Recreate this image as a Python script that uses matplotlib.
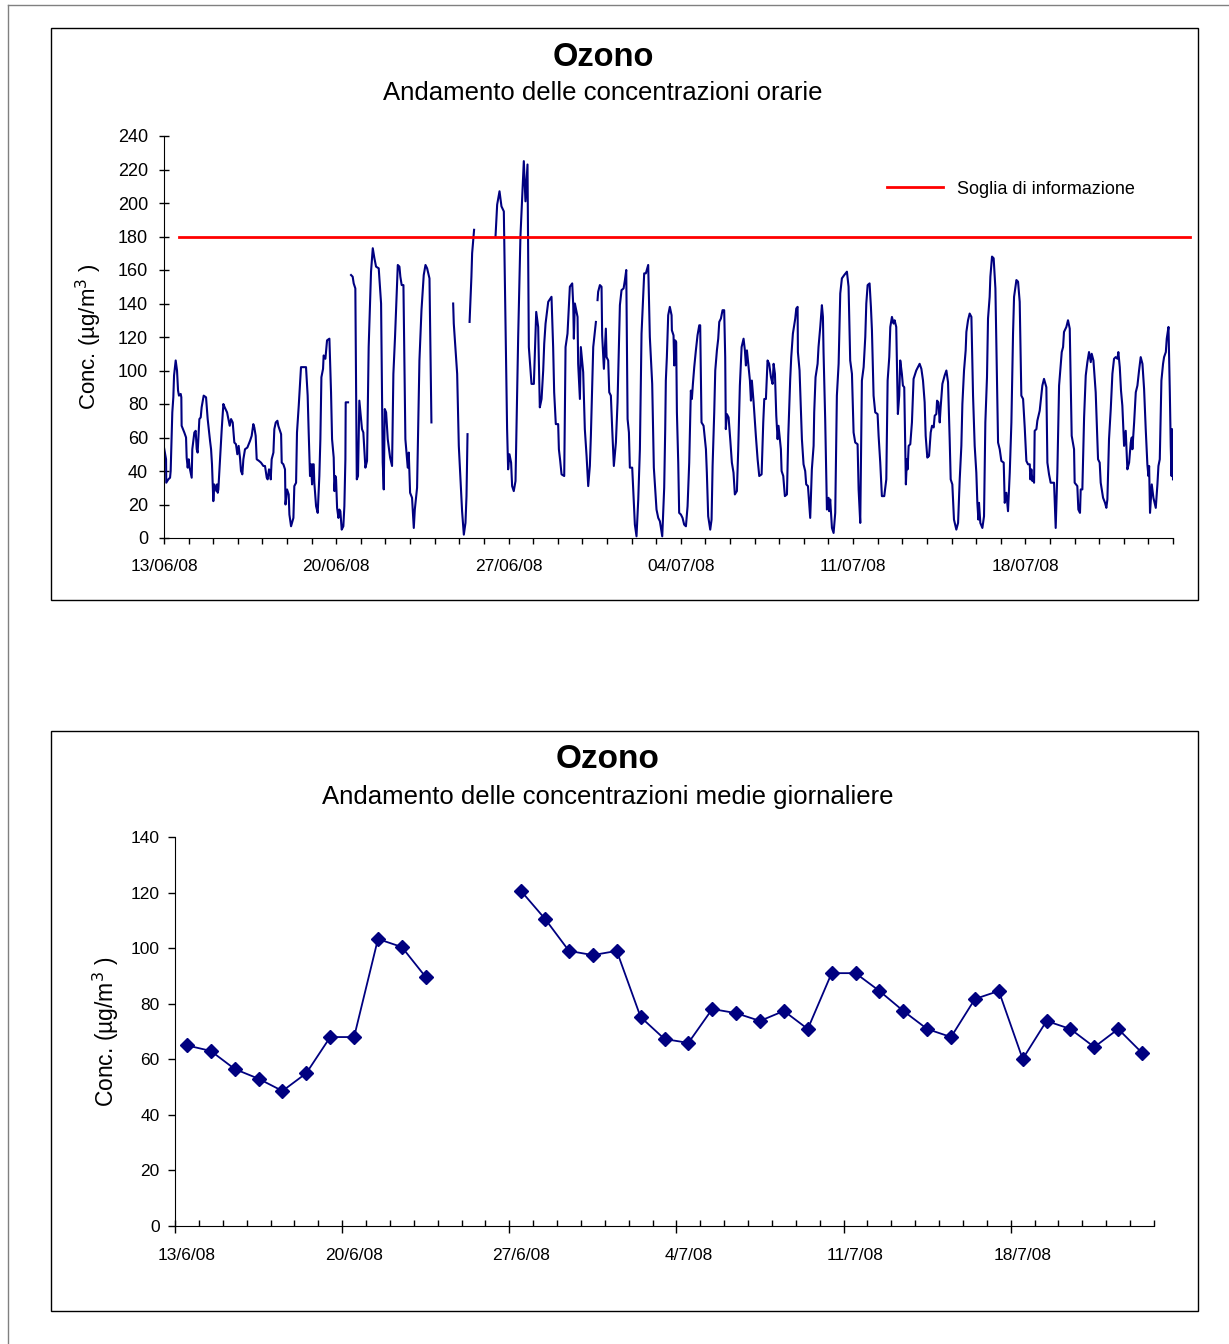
import numpy as np
import pandas as pd
import matplotlib
matplotlib.use("Agg")
import matplotlib.pyplot as plt
from matplotlib.lines import Line2D
from matplotlib.patches import Rectangle

plt.rcParams['font.family'] = ['Liberation Sans', 'DejaVu Sans']

BLU = '#000080'
ROSSO = '#FF0000'

# --- concentrazioni orarie (ore dall'inizio del 13/06/08, None = dato mancante) ---
inizio = pd.Timestamp("2008-06-13")
ore = [0, 2, 2.2, 4.2, 5.9, 6.5, 8.1, 9.1, 9.8, 11.4, 12.7, 13.7, 14.6, 16.3, 16.9, 17.2, 19.8, 21.5, 22.1, 23.1,
       24.1, 25, 27, 27.6, 29.6, 30.9, 31.9, 32.8, 34.5, 35.8, 36.7, 38.7, 41, 42.6, 44.9, 45.9, 46.8, 48.1, 49.1,
       51.1, 51.7, 52.4, 53, 54.6, 56.3, 57.9, 59.2, 61.5, 63.1, 64.1, 65.4, 67, 68.6, 70.2, 71.5, 72.8, 74.1, 75.1,
       76.4, 77.4, 79, 81.3, 83.9, 85.5, 87.1, 88.1, 89.4, 90.4, 92.7, 94.6, 96.9, 98.5, 100.2, 101.1, 102.4, 103.4,
       104.1, 105, 106.7, 107.6, 109, 110.6, 111.5, 114.2, 114.8, 116.4, 118, 118.5, 120, 121.6, 122.3, 123.9, 126.2,
       127.1, 128.8, 129.7, 131.4, 133.6, 138.5, 140.1, 141.1, 142.4, 143.4, 144.4, 145, 146, 146.6, 148.3, 149.9,
       151.5, 152.5, 153.5, 155.1, 155.7, 157.4, 159, 161.3, 162.9, 163.9, 165.5, 166.2, 167.1, 167.8, 168.8, 170.1,
       171, 172, 173.3, 174.9, 175.9, 176.9, 177.2, 179.5, 181,
       182.4, 184, 185, 186.6, 188, 189.2, 190.5, 192.2, 193.1, 194.4, 195.4, 196.4, 198, 199.6, 201.9, 203.6, 205.2,
       206.8, 209.4, 211.7, 213.3, 214.3, 215.3, 216.6, 218.2, 220.5, 222.4, 223.7, 225.3, 228, 229.6, 230.5, 231.8,
       233.5, 235.4, 237.7, 238.7, 240, 241.9, 243.6, 244.6, 246.8, 249.1, 251.1, 253.3, 255, 256.6, 258.9, 260.8, 270,
       282, 282.6, 285.9, 287.5, 289.1, 290.7, 292.4, 294, 295, 296, 297,
       298, 299.8, 300.5, 302.4, 312,
       323.3, 324.9, 327.2, 329.1, 331.4, 334.6, 335.6, 336.9, 338.5, 339.5, 341.1, 342.8, 345.4, 347.6, 350.9, 352.5,
       354.5, 355.8, 358.4, 360.7, 363, 364.9, 366.5, 368.2, 369.8, 370.8, 372.1, 374.7, 377.9, 379.5, 380.5, 382.1,
       384.4, 385.1, 386.4, 387.7, 390.3, 391.6, 393.5, 395.8, 398.1, 399.1, 399.7, 400.7, 403.3, 403.9, 405.6, 406.5,
       408.8, 410.4, 412.1, 413.7, 415.3, 416.3, 418.6, 421.2, 422,
       422.8, 423.4, 425.1, 426.7, 427.3, 429, 430.9, 431.6, 433.2, 434.2, 435.8, 437.1, 438.7, 440.7, 442.3, 444.6,
       446.2, 448.2, 449.5, 450.8, 452.1, 453.4, 454.3, 456.6, 459.2, 460.8, 462.5, 464.1, 465.7, 468.3, 469.9, 472.2,
       473.8, 476.1, 477.7, 480.3, 482, 483.6, 485.9, 487.8, 488.8, 489.4, 490.4, 491.7, 493.3, 495, 495.3, 496.9,
       497.6, 498.5, 499.5, 500.2, 501.5, 502.4, 504.1, 505.7, 507.3, 509, 510.6, 512.2, 513.8, 514.8, 515.8, 517.1,
       518.7, 520.3, 522, 522.9, 524.2, 526.2, 528.5, 529.4, 530.7, 532.7, 534, 535, 536.6, 537.6, 539.2, 540.5,
       541.5, 543.1, 544.7, 546.3, 547.3, 547.9, 548.9, 550.6, 552.2, 553.8, 555.4, 556.7, 558.7, 560, 561.6, 563.3,
       565.2, 566.5, 567.5, 568.5, 569.8, 571.4, 572.4, 573.3, 575, 577.2, 578.9, 580.5, 582.8, 584.4, 585.4, 587,
       588.6, 590.2, 591.9, 593.5, 594.5, 595.8, 597.1, 598.4, 599.3, 601.6, 602.3, 603.9, 605.5, 607.5, 608.8, 610.7,
       611.7, 613.3, 614.6, 615.6, 616.6, 617.9, 618.2, 619.8, 622.1, 623.7, 625.3, 626.3, 628, 630.2, 631.8, 633.5,
       634.1, 635.4, 637.4, 638.3, 640, 641.6, 642.6, 643.2, 644.8, 646.5, 648.1, 648.7, 649.7, 651.4, 653, 654.6,
       656.2, 657.9, 659.5, 661.1, 663.4, 666, 667.6, 669.2, 670.9, 672.5, 674.1, 676.4, 677.4, 679, 680.6, 682.3,
       683.9, 684.9, 686.2, 688.1, 689.4, 690.4, 692, 693.6, 695.9, 696.9, 698.5, 700.1, 702.4, 704.4, 705.7, 707.3,
       708.3, 709.9, 711.5, 712.5, 714.1, 714.8, 715.7, 717, 718, 719.6, 720.6, 721.9, 723.5, 724.5, 725.2, 726.2,
       727.8, 729.4, 731, 733.6, 735.3, 736.9, 738.6, 740.2, 741.8, 742.8, 744.4, 746.1, 747.7, 749, 750.6, 751.6,
       753.2, 753.9, 755.2, 756.5, 757.4, 759.1, 761.3, 763, 764.6, 766.2, 767.2, 768.8, 770.4, 772.7, 774.4, 776,
       777.6, 778.6, 780.2, 781.8, 782.5, 784.1, 785.7, 787.4, 789, 790.6, 792.2, 793.2, 794.2, 794.8, 796.1, 798.1,
       799.7, 801, 802.6, 803.6, 805.2, 805.9, 807.5, 809.1, 810.8, 811.7, 813.4, 815, 816.6, 818.9, 819.9, 821.5,
       823.1, 824.8, 826.4, 828, 829, 831.3, 832.9, 834.5, 836.1, 837.8, 839.4, 841, 842.6, 844.3, 844.9, 845.9,
       846.9, 847.5, 848.5, 849.1, 850.8, 851.7, 854, 856.6, 858.2, 860.5, 861.5, 863.1, 864.7, 868, 869.6, 871.2,
       872.9, 875.5, 876.8, 877.7, 880, 881.6, 883.3, 885.2, 887.5, 888.1, 890.7, 891.7, 893.3, 894, 895.6, 897.3,
       898.9, 900.5, 902.1, 903.8, 904.7, 906.4, 908.6, 910.9, 912.5, 913.5, 915.8, 917.7, 919, 920, 921.6, 923.3,
       924.9, 926.5, 928.1, 929.8, 930.7, 932.1, 933.3, 934.6, 935.3, 936.3, 937.9, 939.5, 941.2, 942.8, 943.8, 944.4,
       946.1, 947.7, 949.3, 950.9, 952.5, 954.2, 955.8, 957.4, 959, 960, 960.7, 961.6, 963.3, 964.9, 967.2, 968.8,
       969.8, 971.1, 972.7, 974.3, 975.3, 977, 977.9, 979.6, 980.9, 981.8, 982.6, 983.1, 983.5, 984]
conc = [54, 47, 33, 35, 36, 40, 75, 84, 97, 106, 100, 88, 85, 86, 84, 67, 63, 60, 48, 42,
        47, 42, 36, 53, 63, 64, 53, 51, 71, 72, 78, 85, 84, 71, 58, 53, 44, 22, 32,
        28, 32, 27, 29, 47, 65, 80, 78, 75, 70, 67, 71, 69, 57, 56, 50, 55, 48, 40,
        38, 47, 53, 54, 58, 61, 68, 66, 61, 47, 46, 45, 43, 43, 36, 35, 41, 40,
        35, 47, 51, 65, 69, 70, 67, 62, 45, 44, 41, 20, 29, 26, 14, 7, 12,
        31, 33, 63, 79, 102, 102, 85, 63, 37, 44, 32, 44, 44, 33, 19, 15,
        37, 59, 96, 101, 109, 107, 118, 119, 87, 59, 48, 28, 37, 35, 18, 12,
        17, 16, 5, 7, 19, 47, 81, 81, None,
        157, 156, 152, 149, 35, 37, 82, 71, 65, 63, 53, 42, 46, 114, 159, 173, 167,
        162, 161, 140, 45, 29, 77, 75, 59, 48, 43, 98, 120, 163, 162, 156, 151,
        151, 59, 42, 51, 27, 24, 6, 17, 30, 106, 136, 157, 163, 161, 155, 69, None,
        140, 128, 98, 55, 35, 16, 2, 9, 25, 62, None,
        129, 156, 170, 184, None,
        180, 199, 207, 198, 195, 65, 41, 50, 45, 31, 28, 34, 120, 180, 225, 201,
        223, 114, 92, 92, 135, 126, 78, 83, 100, 116, 128, 141, 144, 114, 87, 68,
        68, 53, 46, 38, 37, 114, 122, 150, 152, 139, 119, 140, 132, 104, 83, 114,
        99, 65, 49, 31, 43, 61, 114, 129, None,
        142, 147, 151, 150, 121, 101, 125, 108, 106, 87, 85, 65, 43, 57, 81, 139,
        148, 149, 154, 160, 71, 63, 42, 42, 8, 1, 23, 53, 122, 158, 158, 163,
        120, 92, 42, 17, 12, 10, 1, 30, 65, 94, 108, 133, 138, 133, 124, 121,
        103, 118, 117, 75, 45, 15, 14, 12, 8, 7, 19, 45, 88, 83, 92, 102,
        112, 121, 127, 127, 69, 67, 53, 39, 13, 5, 11, 43, 75, 100, 112, 119,
        129, 131, 136, 136, 108, 65, 74, 72, 59, 45, 39, 26, 28, 53, 91, 114,
        119, 112, 103, 112, 104, 94, 82, 94, 81, 61, 47, 37, 38, 69, 83, 83,
        106, 104, 96, 92, 104, 98, 73, 59, 67, 53, 40, 37, 25, 26, 61, 95,
        108, 122, 127, 131, 137, 138, 111, 100, 59, 44, 40, 32, 31, 12, 41, 55,
        75, 96, 104, 114, 126, 139, 132, 111, 71, 17, 24, 16, 23, 6, 3, 15,
        85, 104, 146, 155, 157, 159, 150, 106, 98, 63, 57, 56, 29, 9, 94, 102,
        120, 140, 151, 152, 138, 124, 85, 75, 74, 61, 45, 25, 25, 35, 94, 108,
        126, 132, 128, 130, 126, 102, 74, 85, 106, 98, 91, 90, 32, 47, 41, 55,
        56, 69, 95, 100, 102, 104, 101, 94, 81, 61, 48, 49, 63, 67, 66, 73,
        74, 82, 81, 69, 78, 92, 97, 100, 93, 59, 35, 32, 11, 5, 9, 35,
        55, 80, 100, 112, 123, 130, 134, 132, 85, 55, 39, 21, 11, 21, 9, 6,
        13, 69, 96, 131, 144, 156, 168, 167, 149, 116, 57, 53, 46, 45, 21, 27,
        16, 39, 69, 122, 144, 154, 153, 141, 85, 83, 66, 46, 44, 44, 35, 41,
        34, 36, 33, 64, 65, 70, 76, 91, 95, 90, 45, 38, 33, 33, 6, 39,
        91, 111, 114, 123, 126, 130, 125, 61, 53, 33, 31, 17, 15, 29, 29, 72,
        97, 105, 111, 105, 110, 106, 87, 47, 45, 33, 24, 21, 18, 23, 59, 77,
        98, 107, 108, 107, 111, 102, 88, 79, 69, 55, 64, 41, 45, 57, 60, 53,
        69, 87, 91, 100, 108, 104, 89, 65, 44, 37, 43, 15, 32, 24, 18, 32,
        43, 47, 94, 104, 108, 111, 119, 126, 87, 55, 37, 65, 56, 35]

soglia = 180
soglia_periodo = ["2008-06-13 15:00", "2008-07-24 17:00"]

date_orarie = ["13/06/08", "20/06/08", "27/06/08", "04/07/08", "11/07/08", "18/07/08"]

# --- medie giornaliere ---
giorni = pd.date_range("2008-06-13", "2008-07-23", freq="D")
medie = [65, 63, 56.5, 53, 48.6, 55, 68, 68, 103.3, 100.4, 89.6, np.nan, np.nan, np.nan,
         120.5, 110.5, 99, 97.5, 99, 75.2, 67.3, 65.9, 78.1, 76.6, 73.8, 77.4, 70.9,
         91, 91, 84.6, 77.4, 70.9, 68, 81.7, 84.6, 60.1, 73.8, 70.9, 64.4, 70.9, 62.3]

W, H = 1229, 1344
fig = plt.figure(figsize=(W / 100, H / 100), dpi=100)

# cornici
fig.add_artist(Line2D([8 / W, 8 / W], [0, 1 - 5 / H], color='#808080', lw=1))
fig.add_artist(Line2D([8 / W, 1], [1 - 5 / H, 1 - 5 / H], color='#808080', lw=1))
fig.add_artist(Rectangle((51 / W, 1 - 600 / H), 1147 / W, 572 / H, fill=False, ec='black', lw=1))
fig.add_artist(Rectangle((51 / W, 1 - 1311 / H), 1147 / W, 580 / H, fill=False, ec='black', lw=1))

# ================= grafico orario =================
ax1 = fig.add_axes([164 / W, 1 - 538 / H, 1009 / W, 402 / H])
tempi = inizio + pd.to_timedelta(ore, unit='h')
valori = np.array([np.nan if v is None else v for v in conc], dtype=float)
ax1.plot(tempi, valori, color=BLU, lw=1.5)
lim = ax1.plot(pd.to_datetime(soglia_periodo), [soglia, soglia], color=ROSSO, lw=2,
               clip_on=False, label='Soglia di informazione')[0]

ax1.set_ylim(0, 240)
ax1.set_yticks(range(0, 241, 20))
ax1.set_xlim(inizio, inizio + pd.Timedelta(days=41))
settimane = pd.to_datetime(date_orarie, format="%d/%m/%y")
ax1.set_xticks(settimane)
ax1.set_xticklabels(date_orarie)
ax1.set_xticks(pd.date_range(inizio, periods=42, freq="D"), minor=True)
for s in ['top', 'right']:
    ax1.spines[s].set_visible(False)
ax1.tick_params(axis='y', direction='inout', length=7, width=1, labelsize=13, pad=8)
ax1.tick_params(axis='x', which='both', direction='out', length=4, width=1, labelsize=12.5, pad=11)
ax1.set_ylabel('Conc. (µg/m$^{3}$ )', fontsize=16, labelpad=10)

fig.text(603 / W, 1 - 58 / H, 'Ozono', ha='center', va='center', fontsize=23.5, fontweight='bold')
fig.text(603 / W, 1 - 93 / H, 'Andamento delle concentrazioni orarie', ha='center', va='center', fontsize=18.5)

ax1.legend(handles=[lim], loc='center left', bbox_to_anchor=(887 / W, 1 - 189 / H),
           bbox_transform=fig.transFigure, frameon=False, fontsize=13, borderpad=0,
           borderaxespad=0, handlelength=3.1, handletextpad=0.8)

# ================= grafico giornaliero =================
ax2 = fig.add_axes([175 / W, 1 - 1226 / H, 979 / W, 389 / H])
x = np.arange(len(medie)) + 0.5
ax2.plot(x, medie, color=BLU, lw=1.3, marker='D', ms=7)
ax2.set_xlim(0, len(medie))
ax2.set_ylim(0, 140)
ax2.set_yticks(range(0, 141, 20))

pos_etichette = x[::7]
etichette = [f"{d.day}/{d.month}/{d:%y}" for d in giorni[::7]]
ax2.set_xticks(pos_etichette)
ax2.set_xticklabels(etichette)
ax2.set_xticks(np.arange(0, len(medie) + 1), minor=True)
ax2.tick_params(axis='x', which='major', length=0, labelsize=12.5, pad=16)
ax2.tick_params(axis='x', which='minor', direction='in', length=4, width=1)
ax2.tick_params(axis='y', direction='out', length=5, width=1, labelsize=12.5, pad=6)
for s in ['top', 'right']:
    ax2.spines[s].set_visible(False)

sec = ax2.secondary_xaxis('bottom')
sec.set_xticks(np.arange(0, len(medie), 7))
sec.tick_params(direction='out', length=5, width=1, labelbottom=False)
sec.spines['bottom'].set_visible(False)

ax2.set_ylabel('Conc. (µg/m$^{3}$ )', fontsize=16.5, labelpad=7)

fig.text(608 / W, 1 - 760 / H, 'Ozono', ha='center', va='center', fontsize=24, fontweight='bold')
fig.text(608 / W, 1 - 797 / H, 'Andamento delle concentrazioni medie giornaliere', ha='center', va='center',
         fontsize=18.5)

fig.savefig('out.png', dpi=100)
